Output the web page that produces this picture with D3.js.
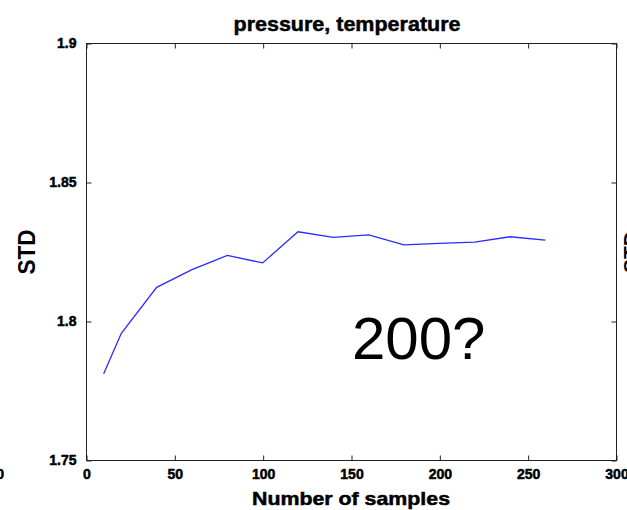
<!DOCTYPE html>
<html>
<head>
<meta charset="utf-8">
<script src="https://cdn.jsdelivr.net/npm/d3@7"></script>
<style>
  html, body { margin: 0; padding: 0; background: #fff; }
  svg { display: block; }
  text { font-family: "Liberation Sans", Arial, sans-serif; fill: #000; }
  text.heavy { stroke: #000; stroke-width: 0.5px; }
</style>
</head>
<body>
<svg id="chart" width="627" height="510"></svg>
<script>
// ---- data ----
const samples = [10, 20, 40, 60, 80, 100, 120, 140, 160, 180, 200, 220, 240, 260];
const stdValues = [1.781, 1.7956, 1.8121, 1.8185, 1.8236, 1.8209, 1.8321, 1.8301, 1.831, 1.8274, 1.8279, 1.8284, 1.8303, 1.8291];
const xTicks = [0, 50, 100, 150, 200, 250, 300];
const yTicks = [1.75, 1.8, 1.85, 1.9];
const titleText = "pressure, temperature";
const xLabel = "Number of samples";
const yLabel = "STD";
const annotation = "200?";

const svg = d3.select("#chart");
const x = d3.scaleLinear().domain([0, 300]).range([86, 616]);
const y = d3.scaleLinear().domain([1.75, 1.9]).range([460, 43]);

const frame = svg.append("g").attr("transform", "translate(0.5,0.5)");

// frame
frame.append("rect")
  .attr("x", x(0)).attr("y", y(1.9))
  .attr("width", x(300) - x(0)).attr("height", y(1.75) - y(1.9))
  .attr("fill", "none").attr("stroke", "#222").attr("stroke-width", 1);

const tickLen = 5;
// bottom & top ticks (inward)
const bottomAxis = d3.axisBottom(x).tickValues(xTicks).tickSizeInner(-tickLen).tickSizeOuter(0).tickFormat(d3.format("d")).tickPadding(9);
const gB = frame.append("g").attr("transform", `translate(0,${y(1.75)})`).call(bottomAxis);
gB.select(".domain").remove();
gB.selectAll("line").attr("stroke", "#222");
gB.selectAll("text").attr("class", "heavy").attr("font-size", 14).attr("font-weight", "bold").attr("fill", "#000");

const topAxis = d3.axisTop(x).tickValues(xTicks).tickSizeInner(-tickLen).tickSizeOuter(0).tickFormat("");
const gT = frame.append("g").attr("transform", `translate(0,${y(1.9)})`).call(topAxis);
gT.select(".domain").remove();
gT.selectAll("line").attr("stroke", "#222");

const leftAxis = d3.axisLeft(y).tickValues(yTicks).tickSizeInner(-tickLen).tickSizeOuter(0)
  .tickFormat(d => d3.format("")(+d.toFixed(2))).tickPadding(10);
const gL = frame.append("g").attr("transform", `translate(${x(0)},0)`).call(leftAxis);
gL.select(".domain").remove();
gL.selectAll("line").attr("stroke", "#222");
gL.selectAll("text").attr("class", "heavy").attr("font-size", 14).attr("font-weight", "bold").attr("fill", "#000");

const rightAxis = d3.axisRight(y).tickValues(yTicks).tickSizeInner(-tickLen).tickSizeOuter(0).tickFormat("");
const gR = frame.append("g").attr("transform", `translate(${x(300)},0)`).call(rightAxis);
gR.select(".domain").remove();
gR.selectAll("line").attr("stroke", "#222");

// line
const line = d3.line().x((d, i) => x(samples[i])).y(d => y(d));
svg.append("path")
  .datum(stdValues)
  .attr("d", line)
  .attr("fill", "none")
  .attr("stroke", "#2b2bff")
  .attr("stroke-width", 1.3);

// title
svg.append("text")
  .attr("class", "heavy")
  .attr("x", 347).attr("y", 31)
  .attr("text-anchor", "middle")
  .attr("font-size", 21).attr("font-weight", "bold")
  .attr("textLength", 227).attr("lengthAdjust", "spacingAndGlyphs")
  .text(titleText);

// x label
svg.append("text")
  .attr("class", "heavy")
  .attr("x", 351).attr("y", 505)
  .attr("text-anchor", "middle")
  .attr("font-size", 19).attr("font-weight", "bold")
  .attr("textLength", 198).attr("lengthAdjust", "spacingAndGlyphs")
  .text(xLabel);

// y label
svg.append("text")
  .attr("transform", "translate(35,252) rotate(-90)")
  .attr("text-anchor", "middle")
  .attr("font-size", 23).attr("font-weight", "bold")
  .attr("textLength", 45).attr("lengthAdjust", "spacingAndGlyphs")
  .text(yLabel);

// annotation
svg.append("text")
  .attr("x", 352).attr("y", 359)
  .attr("font-size", 60)
  .text(annotation);

// fragments of neighbouring panels at the edges (cut off in the reference too)
svg.append("text")
  .attr("class", "heavy")
  .attr("x", 4).attr("y", 479)
  .attr("text-anchor", "end")
  .attr("font-size", 14).attr("font-weight", "bold")
  .text("300");
svg.append("text")
  .attr("transform", "translate(638,252) rotate(-90)")
  .attr("text-anchor", "middle")
  .attr("font-size", 21).attr("font-weight", "bold")
  .attr("textLength", 42).attr("lengthAdjust", "spacingAndGlyphs")
  .text(yLabel);
</script>
</body>
</html>
